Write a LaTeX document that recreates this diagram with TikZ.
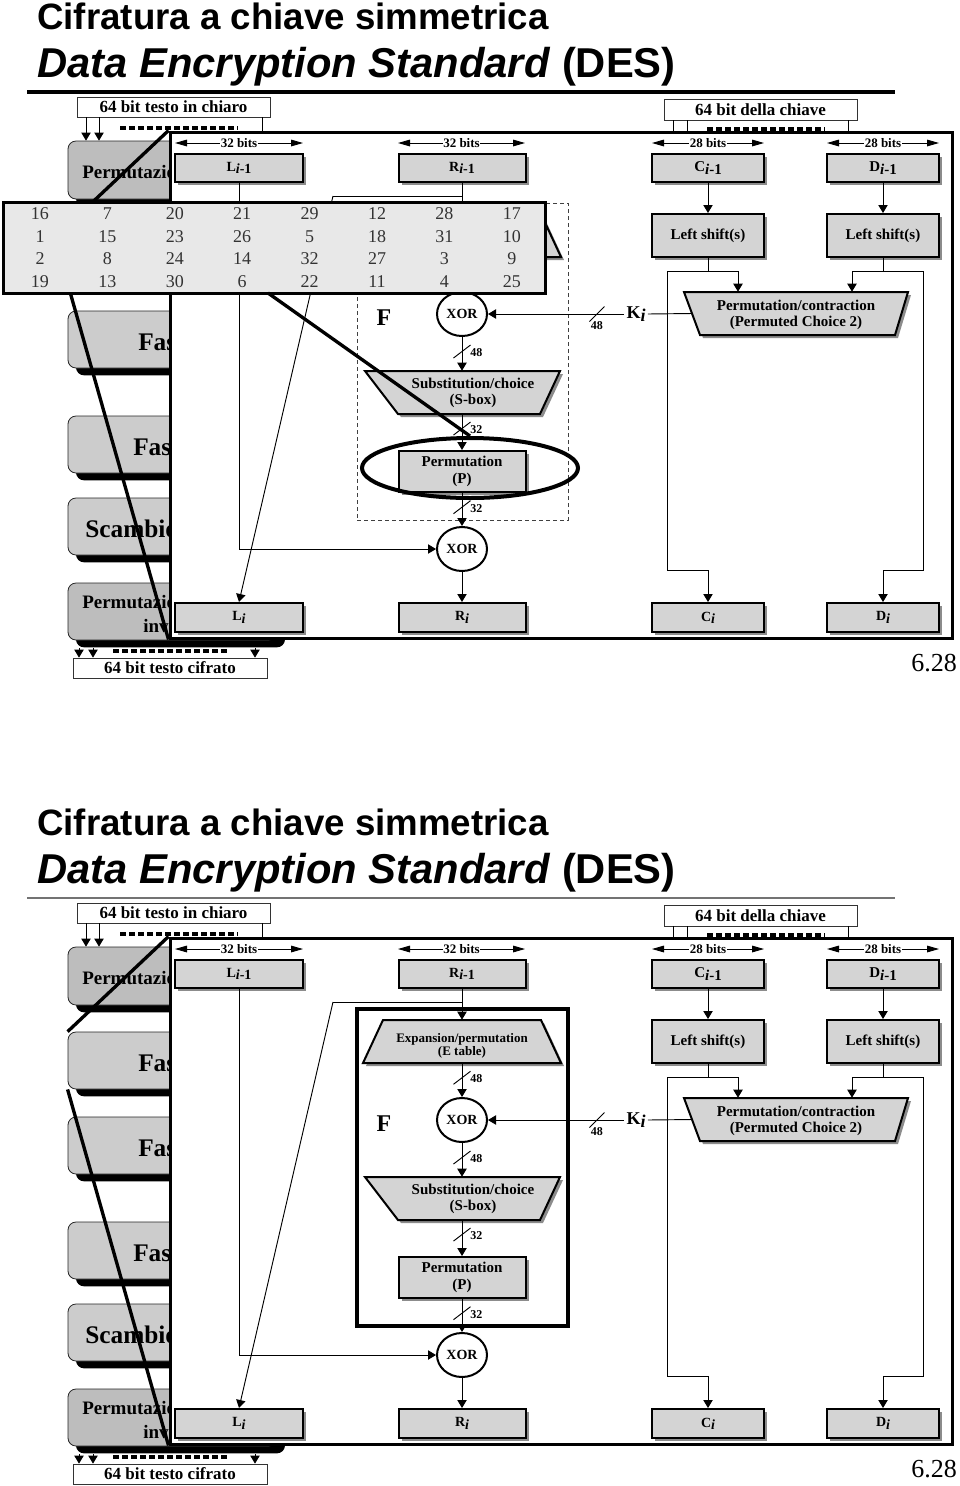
\documentclass[tikz,border=0pt]{standalone}
\usepackage{fontspec}
\setmainfont{Liberation Serif}
\newfontfamily\titlefont{Liberation Sans}
\usetikzlibrary{arrows.meta,shapes.geometric,calc,shadows}
\definecolor{lbgrey}{gray}{0.80}
\definecolor{lbgreyd}{gray}{0.74}
\definecolor{ibgrey}{gray}{0.83}
\definecolor{tabgrey}{gray}{0.91}
\def\pxu{*0.75pt}
\tikzset{
  lbox/.style={draw=black!85, line width=0.6pt, rounded corners=6pt, inner sep=0pt,
     drop shadow={shadow xshift=6pt, shadow yshift=-5.5pt, fill=black, opacity=1}},
  ltext/.style={font=\bfseries\fontsize{14.25pt}{15pt}\selectfont, inner sep=0pt},
  ftext/.style={font=\bfseries\fontsize{19pt}{20pt}\selectfont, inner sep=0pt},
  iobox/.style={draw=black!80, line width=0.6pt, fill=white, inner sep=0pt, font=\bfseries\fontsize{12.75pt}{13pt}\selectfont},
  ibox/.style={draw, line width=1.5pt, fill=ibgrey, inner sep=0pt, font=\bfseries\fontsize{10.5pt}{12pt}\selectfont,
     drop shadow={shadow xshift=2.25pt, shadow yshift=-2.25pt, fill=black!45, opacity=1}},
  tshape/.style={draw, line width=1.5pt, fill=ibgrey,
     drop shadow={shadow xshift=2.25pt, shadow yshift=-2.25pt, fill=black!45, opacity=1}},
  tanch/.style={inner sep=0pt},
  tlab/.style={inner sep=0pt, align=center, font=\bfseries\fontsize{11.25pt}{12pt}\selectfont},
  xor/.style={draw, ellipse, line width=1.5pt, fill=white, minimum width=50\pxu, minimum height=44\pxu, inner sep=0pt, font=\bfseries\fontsize{10.5pt}{12pt}\selectfont},
  arr/.style={line width=0.7pt, -{Triangle[length=6pt,width=7pt]}},
  conn/.style={line width=0.7pt},
  dim/.style={line width=0.7pt, {Triangle[length=9pt,width=5pt]}-{Triangle[length=9pt,width=5pt]}},
  dimlab/.style={fill=white, inner sep=0.5pt, font=\bfseries\fontsize{9.75pt}{10pt}\selectfont},
  nlab/.style={inner sep=0pt, font=\bfseries\fontsize{9pt}{10pt}\selectfont},
  dotrow/.style={line width=3pt, dash pattern=on 4.5pt off 2.25pt},
  slash/.style={line width=0.7pt},
  tnum/.style={inner sep=0pt, text=black!80, font=\fontsize{13.5pt}{14pt}\selectfont},
  callout/.style={line width=2.5pt},
}
\newcommand\DESpanel[1]{%
% title
\node[anchor=base west, inner sep=0pt, font=\titlefont\bfseries\fontsize{27.5pt}{28pt}\selectfont] (ta) at (37,29) {Cifratura a chiave simmetrica};
\node[anchor=base west, inner sep=0pt, font=\titlefont\bfseries\fontsize{31.3pt}{32pt}\selectfont] (tb) at (37,77) {\itshape Data Encryption Standard\/\upshape\ (DES)};
\ifnum#1=1 \draw[line width=3pt] (27,92) -- (895,92);\else \draw[line width=2pt, black!55] (27,92) -- (895,92);\fi
% left boxes
\node[lbox, fill=lbgreyd, minimum width=209\pxu, minimum height=58\pxu] (b1) at (172.5,170) {};
\node[lbox, fill=lbgrey, minimum width=209\pxu, minimum height=57\pxu] (b2) at (172.5,254.5) {};
\node[lbox, fill=lbgrey, minimum width=209\pxu, minimum height=57\pxu] (b3) at (172.5,339.5) {};
\node[lbox, fill=lbgrey, minimum width=209\pxu, minimum height=57\pxu] (b4) at (172.5,444.5) {};
\node[lbox, fill=lbgrey, minimum width=209\pxu, minimum height=57\pxu] (b5) at (172.5,526.5) {};
\node[lbox, fill=lbgreyd, minimum width=209\pxu, minimum height=57\pxu] (b6) at (172.5,611.5) {};
\node[ltext, anchor=base west] (b1t) at (82,178) {Permutazione};
\ifnum#1=1\else \node[ftext, anchor=base west] (b2t) at (138,265) {Fase 1};\fi
\node[ftext, anchor=base west] (b3t) at (138,350) {Fase 2};
\node[ftext, anchor=base west] (b4t) at (133,455) {Fase 16};
\node[ftext, anchor=base west] (b5t) at (85,537) {Scambio};
\node[ltext, anchor=base west] (b6t) at (82,608) {Permutazione};
\node[ltext, anchor=base west] (b6u) at (143,632) {inversa};
% input / output boxes
\node[iobox, minimum width=193\pxu, minimum height=20\pxu] (pt) at (173.5,107) {64 bit testo in chiaro};
\node[iobox, minimum width=193\pxu, minimum height=21\pxu] (key) at (760.5,109.5) {64 bit della chiave};
\node[iobox, minimum width=194\pxu, minimum height=20\pxu] (ct) at (170,668) {64 bit testo cifrato};
\coordinate (pa1) at (86,117);
\coordinate (pa2) at (99,117);
\coordinate (pa3) at (262,117);
\draw[arr] (pa1) -- (pa1 |- b1.north);
\draw[arr] (pa2) -- (pa2 |- b1.north);
\draw[conn] (pa3) -- ++(0,15);
\draw[dotrow] (120,128) -- (238,128);
\coordinate (ca1) at (79,648);
\coordinate (ca2) at (93,648);
\coordinate (ca3) at (255,648);
\draw[arr] (ca1) -- (ca1 |- ct.north);
\draw[arr] (ca2) -- (ca2 |- ct.north);
\draw[arr] (ca3) -- (ca3 |- ct.north);
\draw[dotrow] (113,651) -- (230,651);
% frame
\node[draw, line width=2.25pt, fill=white, minimum width=782\pxu, minimum height=506\pxu, inner sep=0pt] (fr) at (561,385) {};
\draw[callout] (fr.north west) -- (b2.north west);
\draw[callout] (b2.south west) -- (fr.south west);
\coordinate (ka1) at (673,120);
\coordinate (ka2) at (687,120);
\coordinate (ka3) at (848,120);
\draw[conn] (ka1) -- (ka1 |- fr.north);
\draw[conn] (ka2) -- (ka2 |- fr.north);
\draw[conn] (ka3) -- (ka3 |- fr.north);
\draw[dotrow] (707,128.5) -- (825,128.5);
% F box
\ifnum#1=1
 \node[draw=black!75, dash pattern=on 3pt off 2.25pt, line width=0.75pt, minimum width=211\pxu, minimum height=317\pxu, inner sep=0pt] (Fb) at (462.5,361.5) {};
\else
 \node[draw, line width=3pt, minimum width=211\pxu, minimum height=317\pxu, inner sep=0pt] (Fb) at (462.5,361.5) {};
\fi
% registers
\node[ibox, minimum width=128\pxu, minimum height=28\pxu] (Li1) at (239,168) {L\raisebox{-.35ex}{\itshape i\upshape -1}};
\node[ibox, minimum width=127\pxu, minimum height=28\pxu] (Ri1) at (462,168) {R\raisebox{-.35ex}{\itshape i\upshape -1}};
\node[ibox, minimum width=112\pxu, minimum height=28\pxu, font=\bfseries\fontsize{11.25pt}{12pt}\selectfont] (Ci1) at (708,168) {C\raisebox{-.35ex}{\itshape i\upshape -1}};
\node[ibox, minimum width=112\pxu, minimum height=28\pxu, font=\bfseries\fontsize{11.25pt}{12pt}\selectfont] (Di1) at (883,168) {D\raisebox{-.35ex}{\itshape i\upshape -1}};
\node[ibox, minimum width=112\pxu, minimum height=43\pxu, font=\bfseries\fontsize{11.25pt}{12pt}\selectfont] (LSC) at (708,235.5) {Left shift(s)};
\node[ibox, minimum width=112\pxu, minimum height=43\pxu, font=\bfseries\fontsize{11.25pt}{12pt}\selectfont] (LSD) at (883,235.5) {Left shift(s)};
\node[ibox, minimum width=128\pxu, minimum height=29\pxu] (Li) at (239,617.5) {L\raisebox{-.35ex}{\itshape i}};
\node[ibox, minimum width=127\pxu, minimum height=29\pxu] (Ri) at (462,617.5) {R\raisebox{-.35ex}{\itshape i}};
\node[ibox, minimum width=112\pxu, minimum height=29\pxu] (Ci) at (708,617.5) {C\raisebox{-.35ex}{\itshape i}};
\node[ibox, minimum width=112\pxu, minimum height=29\pxu] (Di) at (883,617.5) {D\raisebox{-.35ex}{\itshape i}};
\node[ibox, minimum width=127\pxu, minimum height=41\pxu, align=center, font=\bfseries\fontsize{11.25pt}{12.5pt}\selectfont] (P) at (462,471.5) {Permutation\\(P)};
% dimension arrows
\coordinate (d1a) at (175,143); \coordinate (d1b) at (303,143);
\coordinate (d2a) at (398,143); \coordinate (d2b) at (525,143);
\coordinate (d3a) at (652,143); \coordinate (d3b) at (764,143);
\coordinate (d4a) at (827,143); \coordinate (d4b) at (939,143);
\draw[dim] (d1a) -- node[dimlab] (d1l) {32 bits} (d1b);
\draw[dim] (d2a) -- node[dimlab] (d2l) {32 bits} (d2b);
\draw[dim] (d3a) -- node[dimlab] (d3l) {28 bits} (d3b);
\draw[dim] (d4a) -- node[dimlab] (d4l) {28 bits} (d4b);
% trapezoids
\path[tshape] (383,214) -- (541,214) -- (561,257) -- (363,257) -- cycle;
\node[tanch, minimum width=198\pxu, minimum height=43\pxu] (E) at (462,235.5) {};
\ifnum#1=1\else \node[tlab, font=\bfseries\fontsize{9.75pt}{9.5pt}\selectfont] (Et) at (462,240) {Expansion/permutation\\(E table)};\fi
\path[tshape] (365,371) -- (560,371) -- (540,414) -- (398,414) -- cycle;
\node[tanch, minimum width=195\pxu, minimum height=43\pxu] (S) at (462,392.5) {};
\node[tlab] (St) at (473,392.5) {Substitution/choice\\(S-box)};
\path[tshape] (684,292) -- (908,292) -- (895,335) -- (700,335) -- cycle;
\node[tanch, minimum width=224\pxu, minimum height=43\pxu] (pc2) at (796,313.5) {};
\node[tlab] (pct) at (796,314.5) {Permutation/contraction\\(Permuted Choice 2)};
% XORs and labels
\node[xor] (X1) at (462,314) {XOR};
\node[xor] (X2) at (462,549) {XOR};
\node[inner sep=0pt, font=\bfseries\fontsize{18pt}{18pt}\selectfont] (Fl) at (384,318) {F};
\node[inner sep=1.5pt, font=\bfseries\fontsize{13.5pt}{14pt}\selectfont] (Ki) at (636,314) {K\raisebox{-.35ex}{\itshape i}};
% connectors
\coordinate (rj) at (462,196);
\coordinate (rl) at (333,196);
\draw[arr] (Ri1.south) -- (E.north);
\draw[conn] (rj) -- (rl);
\draw[arr] (rl) -- (Li.north);
\draw[arr] (Li1.south) |- (X2.west);
\draw[arr] (E.south) -- coordinate[pos=0.43] (s1) (X1.north);
\draw[arr] (X1.south) -- coordinate[pos=0.43] (s2) (S.north);
\draw[arr] (S.south) -- coordinate[pos=0.4] (s3) (P.north);
\draw[arr] (P.south) -- coordinate[pos=0.43] (s4) (X2.north);
\draw[arr] (X2.south) -- (Ri.north);
\draw[slash] (s1) ++(-8.5,6.5) -- ++(17,-13);
\draw[slash] (s2) ++(-8.5,6.5) -- ++(17,-13);
\draw[slash] (s3) ++(-8.5,6.5) -- ++(17,-13);
\draw[slash] (s4) ++(-8.5,6.5) -- ++(17,-13);
\path (s1) ++(8,1) node[nlab, anchor=west] (n1) {48};
\path (s2) ++(8,1) node[nlab, anchor=west] (n2) {48};
\path (s3) ++(8,1) node[nlab, anchor=west] (n3) {32};
\path (s4) ++(8,1) node[nlab, anchor=west] (n4) {32};
\coordinate (pcl) at (692,313.5);
\draw[conn] (pcl) -- (Ki.east);
\draw[arr] (Ki.west) -- coordinate[pos=0.2] (s5) (X1.east);
\draw[slash] (s5) ++(-7.5,7.5) -- ++(15,-15);
\path (s5) ++(0,12) node[nlab] (n5) {48};
\draw[arr] (Ci1.south) -- (LSC.north);
\draw[arr] (Di1.south) -- (LSD.north);
\coordinate (cL) at (667,271); \coordinate (cR) at (738,271); \coordinate (cB) at (667,570);
\coordinate (dL) at (852,271); \coordinate (dR) at (923,271); \coordinate (dB) at (923,570);
\draw[conn] (LSC.south) -- (LSC.south |- cL);
\draw[conn] (cL) -- (cR);
\draw[arr] (cR) -- (cR |- pc2.north);
\draw[arr] (cL) -- (cB) -| (Ci.north);
\draw[conn] (LSD.south) -- (LSD.south |- dL);
\draw[conn] (dL) -- (dR);
\draw[arr] (dL) -- (dL |- pc2.north);
\draw[arr] (dR) -- (dB) -| (Di.north);
% page number
\node[anchor=base west, inner sep=0pt, font=\fontsize{19.5pt}{20pt}\selectfont] (pg) at (911,671) {6.28};
% zoomed table (first panel only)
\ifnum#1=1
 \node[draw, line width=2.25pt, fill=tabgrey, minimum width=542\pxu, minimum height=91\pxu, inner sep=0pt] (tab) at (274,247.5) {};
 \foreach \rowv [count=\ti] in {{16,7,20,21,29,12,28,17},{1,15,23,26,5,18,31,10},{2,8,24,14,32,27,3,9},{19,13,30,6,22,11,4,25}}{
   \foreach \vv [count=\tj] in \rowv {
     \node[tnum] (t\ti-\tj) at ({40+67.4*(\tj-1)},{213.5+22.7*(\ti-1)}) {\vv};
   }
 }
 \node[draw, ellipse, line width=3pt, minimum width=216\pxu, minimum height=60\pxu, inner sep=0pt] (el) at (470,468) {};
 \coordinate (tc) at (268,293);
 \draw[callout] (tc) -- (el.north);
\fi
}
\begin{document}
\begin{tikzpicture}[x=0.75pt,y=-0.75pt]
\useasboundingbox (0,0) rectangle (960,1486);
\begin{scope}[name prefix=p1-]
\DESpanel{1}
\end{scope}
\begin{scope}[name prefix=p2-, shift={(0,806)}]
\DESpanel{2}
\end{scope}
\end{tikzpicture}
\end{document}
